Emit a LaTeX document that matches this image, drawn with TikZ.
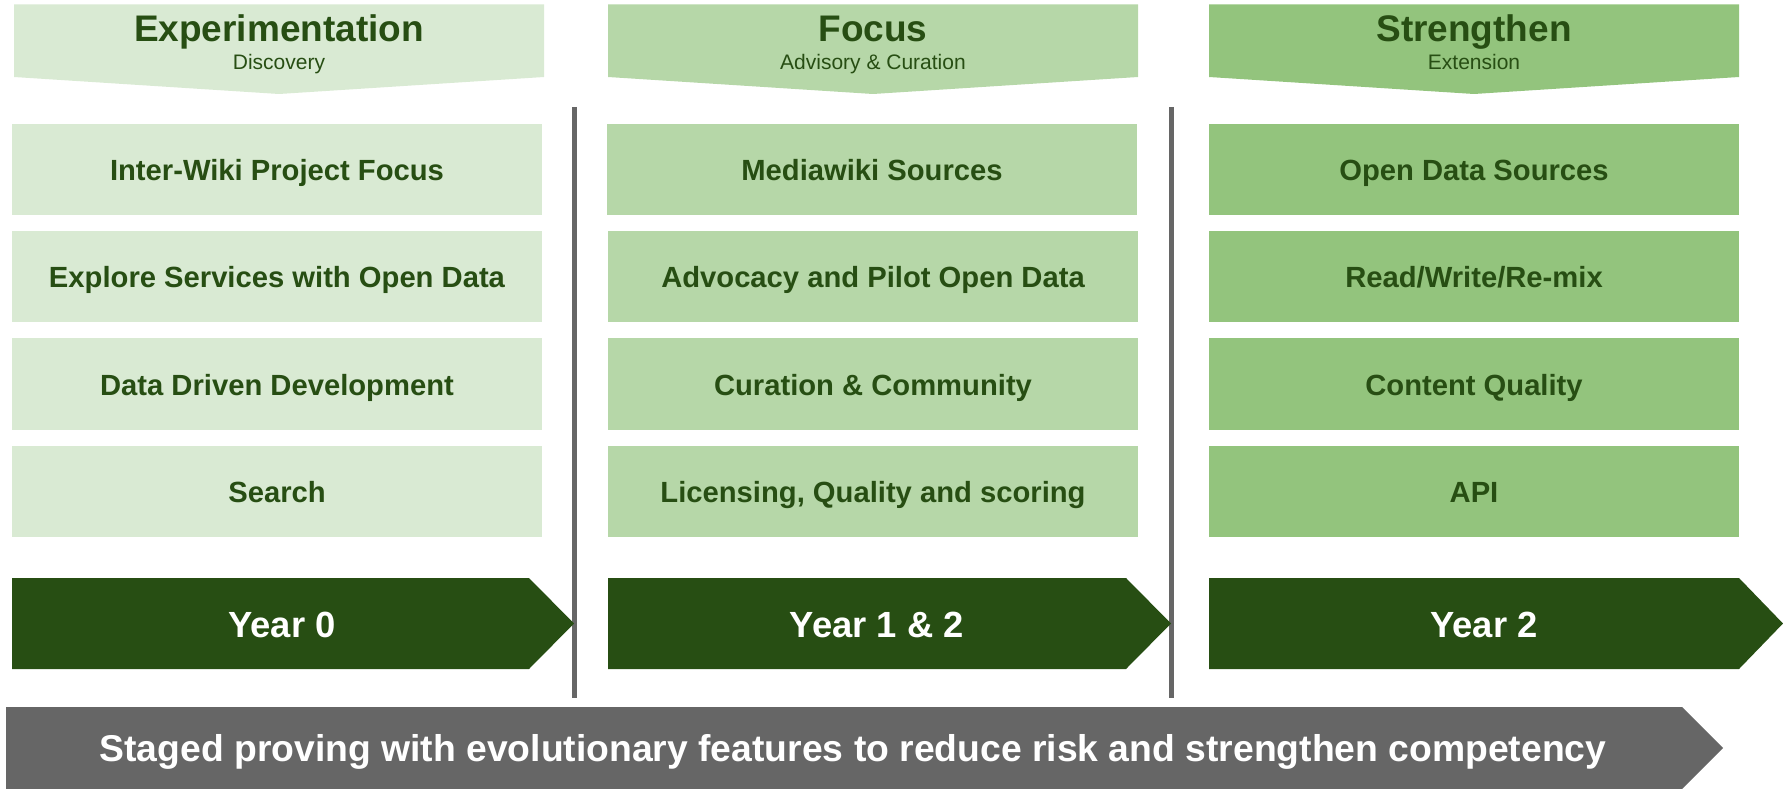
\documentclass[tikz,border=0pt]{standalone}
\usepackage{fontspec}
\setmainfont{Liberation Sans}
\definecolor{gA}{HTML}{D9EAD3}
\definecolor{gB}{HTML}{B6D7A8}
\definecolor{gC}{HTML}{93C47D}
\definecolor{dg}{HTML}{274E13}
\definecolor{gr}{HTML}{666666}
\tikzset{
  boxtxt/.style={text=dg,font=\fontsize{29.2}{34}\selectfont\bfseries,anchor=base,inner sep=0pt},
  titletxt/.style={text=dg,font=\fontsize{37}{44}\selectfont\bfseries,anchor=base,inner sep=0pt},
  subtxt/.style={text=dg,font=\fontsize{21}{25}\selectfont,anchor=base,inner sep=0pt},
  yeartxt/.style={text=white,font=\fontsize{36.4}{42}\selectfont\bfseries,anchor=base,inner sep=0pt},
  bottxt/.style={text=white,font=\fontsize{37.3}{44}\selectfont\bfseries,anchor=base,inner sep=0pt},
  sepline/.style={draw=gr,line width=5pt}
}
\begin{document}
\begin{tikzpicture}[x=1pt,y=-1pt]
\useasboundingbox (0,0) rectangle (1783,789);
% headers
\fill[gA] (14,4.5) -- (544,4.5) -- (544,77) -- (279,94) -- (14,77) -- cycle;
\fill[gB] (608,4.5) -- (1138,4.5) -- (1138,77) -- (873,94) -- (608,77) -- cycle;
\fill[gC] (1209,4.5) -- (1739,4.5) -- (1739,77) -- (1474,94) -- (1209,77) -- cycle;
\node[titletxt] (h1) at (279,42) {Experimentation};
\node[subtxt] (s1) at (279,70) {Discovery};
\node[titletxt] (h2) at (873,42) {Focus};
\node[subtxt] (s2) at (873,70) {Advisory \& Curation};
\node[titletxt] (h3) at (1474,42) {Strengthen};
\node[subtxt] (s3) at (1474,70) {Extension};
% boxes col1
\fill[gA] (12,124) rectangle (542,215);
\fill[gA] (12,231) rectangle (542,322);
\fill[gA] (12,338) rectangle (542,430);
\fill[gA] (12,446) rectangle (542,537);
\node[boxtxt] (a1) at (277,180) {Inter-Wiki Project Focus};
\node[boxtxt] (a2) at (277,287) {Explore Services with Open Data};
\node[boxtxt] (a3) at (277,395) {Data Driven Development};
\node[boxtxt] (a4) at (277,502) {Search};
% col2
\fill[gB] (607,124) rectangle (1137,215);
\fill[gB] (608,231) rectangle (1138,322);
\fill[gB] (608,338) rectangle (1138,430);
\fill[gB] (608,446) rectangle (1138,537);
\node[boxtxt] (b1) at (872,180) {Mediawiki Sources};
\node[boxtxt] (b2) at (873,287) {Advocacy and Pilot Open Data};
\node[boxtxt] (b3) at (873,395) {Curation \& Community};
\node[boxtxt] (b4) at (873,502) {Licensing, Quality and scoring};
% col3
\fill[gC] (1209,124) rectangle (1739,215);
\fill[gC] (1209,231) rectangle (1739,322);
\fill[gC] (1209,338) rectangle (1739,430);
\fill[gC] (1209,446) rectangle (1739,537);
\node[boxtxt] (c1) at (1474,180) {Open Data Sources};
\node[boxtxt] (c2) at (1474,287) {Read/Write/Re-mix};
\node[boxtxt] (c3) at (1474,395) {Content Quality};
\node[boxtxt] (c4) at (1474,502) {API};
% separators
\draw[sepline] (574,107) -- (574,698);
\draw[sepline] (1171,107) -- (1171,698);
% year arrows
\fill[dg] (12,578) -- (529,578) -- (574,623.5) -- (529,669) -- (12,669) -- cycle;
\fill[dg] (608,578) -- (1126,578) -- (1171,623.5) -- (1126,669) -- (608,669) -- cycle;
\fill[dg] (1209,578) -- (1739,578) -- (1783,623.5) -- (1739,669) -- (1209,669) -- cycle;
\node[yeartxt] (y0) at (282,637) {Year 0};
\node[yeartxt] (y1) at (877,637) {Year 1 \& 2};
\node[yeartxt] (y2) at (1484,637) {Year 2};
% bottom arrow
\fill[gr] (6,707) -- (1682,707) -- (1723,748) -- (1682,789) -- (6,789) -- cycle;
\node[bottxt] (bt) at (853,761) {Staged proving with evolutionary features to reduce risk and strengthen competency};
\end{tikzpicture}
\end{document}
